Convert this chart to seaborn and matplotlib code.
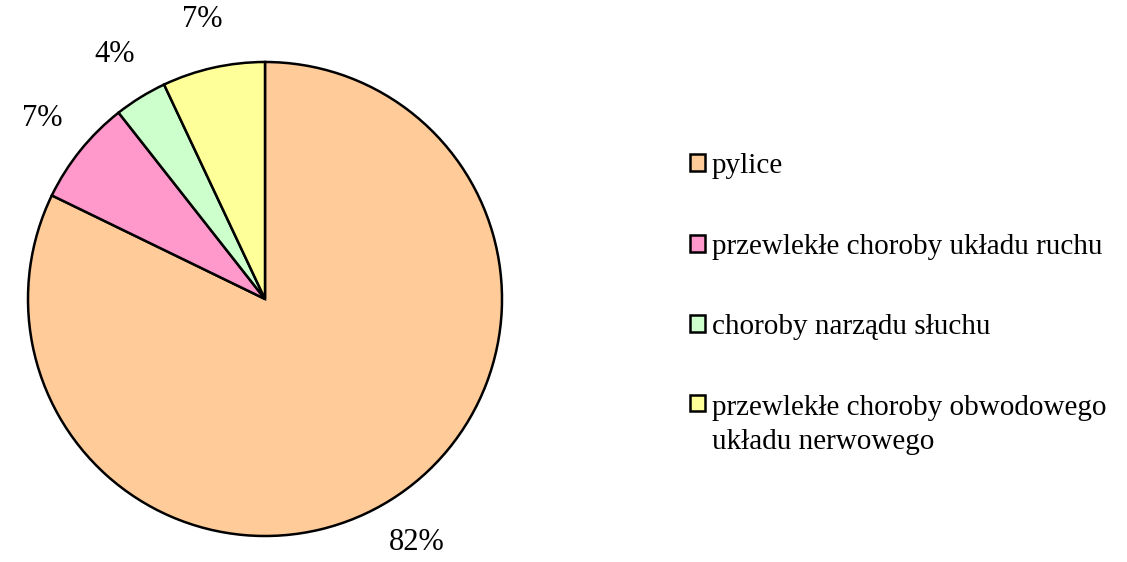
import matplotlib
matplotlib.use("Agg")
import matplotlib.pyplot as plt
import seaborn as sns

categories = ["pylice",
              "przewlekłe choroby układu ruchu",
              "choroby narządu słuchu",
              "przewlekłe choroby obwodowego\nukładu nerwowego"]
values = [82.2, 7.2, 3.6, 7.0]
pct_labels = ["82%", "7%", "4%", "7%"]
colors = ["#FFCC99", "#FF99CC", "#CCFFCC", "#FFFF99"]

sns.set_theme(style="white")
plt.rcParams['font.family'] = ['Liberation Serif', 'DejaVu Serif']

fig = plt.figure(figsize=(11.27, 5.62), dpi=100)
ax = fig.add_axes([28/1127, 26/562, 474/1127, 474/562])

wedges, texts = ax.pie(values, colors=colors, labels=pct_labels,
                       startangle=90, counterclock=False,
                       labeldistance=1.21,
                       wedgeprops=dict(edgecolor="black", linewidth=1.8),
                       textprops=dict(fontsize=22, color="black"))
for t in texts:
    t.set_horizontalalignment("center")
    t.set_verticalalignment("center")
ax.set_xlim(-1, 1)
ax.set_ylim(-1, 1)
ax.set_aspect("equal")

leg = fig.legend(wedges, categories, loc="upper left",
                 bbox_to_anchor=(690/1127, 1 - 153/562),
                 frameon=False, fontsize=21, labelspacing=1.87,
                 handlelength=0.5, handleheight=0.5, handletextpad=0.25,
                 borderaxespad=0, borderpad=0)
for t in leg.get_texts():
    t.set_color("black")
    t.set_linespacing(1.42)
# keep the last marker level with the first line of its two-line label
leg._legend_handle_box.get_children()[0].get_children()[-1].align = "top"

fig.savefig("out.png", dpi=100, facecolor="white")
